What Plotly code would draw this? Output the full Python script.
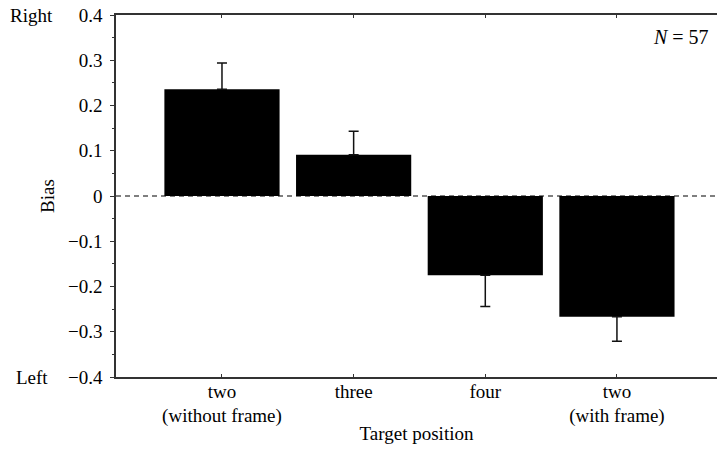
import plotly.graph_objects as go

categories = ["two<br>(without frame)", "three", "four", "two<br>(with frame)"]
bias = [0.236, 0.091, -0.175, -0.267]
err_plus = [0.058, 0.052, 0.0, 0.0]
err_minus = [0.0, 0.0, 0.069, 0.054]
yticks = [-0.4, -0.3, -0.2, -0.1, 0, 0.1, 0.2, 0.3, 0.4]
ytick_text = ["\u22120.4", "\u22120.3", "\u22120.2", "\u22120.1", "0", "0.1", "0.2", "0.3", "0.4"]

font = "Liberation Serif"
x_idx = list(range(len(categories)))

fig = go.Figure()
fig.add_trace(go.Bar(
    x=x_idx, y=bias, width=0.875,
    marker=dict(color="black", line=dict(width=0)),
    error_y=dict(type="data", symmetric=False, array=err_plus, arrayminus=err_minus,
                 color="#111111", thickness=1.5, width=5),
))

fig.add_shape(type="line", xref="paper", yref="y", x0=0, x1=1, y0=0, y1=0,
              line=dict(color="black", width=1.2, dash="5px,4px"), layer="below")

fig.update_layout(
    width=717, height=452,
    margin=dict(l=116, r=0, t=15, b=75),
    paper_bgcolor="white", plot_bgcolor="white",
    showlegend=False,
    font=dict(family=font, size=19, color="black"),
    xaxis=dict(
        range=[-0.805, 3.76], tickmode="array", tickvals=x_idx, ticktext=categories,
        showline=True, linecolor="#333333", linewidth=1.5, mirror="ticks",
        ticks="inside", ticklen=3, tickcolor="#333333", showgrid=False, zeroline=False,
        ticklabelstandoff=-4,
        title=dict(text="Target position", font=dict(size=19), standoff=0),
        tickfont=dict(size=19),
    ),
    yaxis=dict(
        range=[-0.4, 0.4], tickmode="array", tickvals=yticks, ticktext=ytick_text,
        showline=True, linecolor="#333333", linewidth=1.5,
        ticks="outside", ticklen=4, tickcolor="#333333", showgrid=False, zeroline=False,
        minor=dict(dtick=0.05, tick0=0.05, ticks="outside", ticklen=2, tickcolor="#333333", showgrid=False),
        ticklabelstandoff=4,
        title=dict(text="Bias", font=dict(size=19), standoff=8),
        tickfont=dict(size=19),
    ),
)

fig.add_annotation(text="Right", xref="paper", yref="paper", x=-0.14, y=1.0,
                   xanchor="center", yanchor="middle", showarrow=False, font=dict(size=19))
fig.add_annotation(text="Left", xref="paper", yref="paper", x=-0.14, y=0.0,
                   xanchor="center", yanchor="middle", showarrow=False, font=dict(size=19))
fig.add_annotation(text="<i>N</i> = 57", xref="paper", yref="paper", x=0.99, y=0.975,
                   xanchor="right", yanchor="top", showarrow=False, font=dict(size=20))

fig.write_html("out.html", config={"displayModeBar": False},
               post_script="document.body.style.margin='0';document.body.style.overflow='hidden';")
